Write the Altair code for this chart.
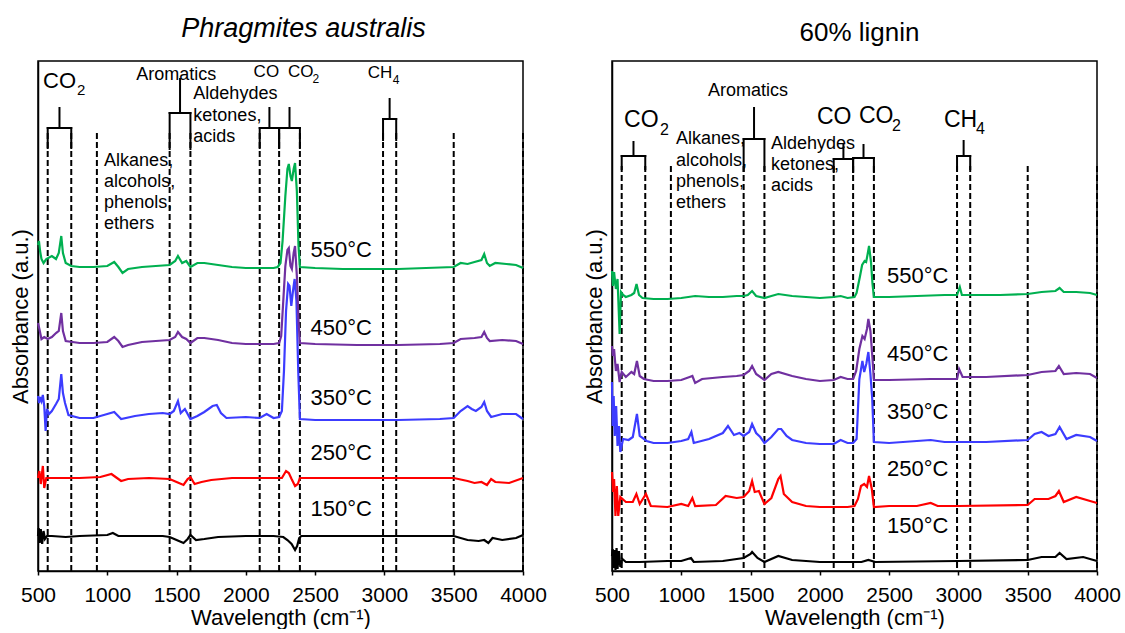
import altair as alt
import pandas as pd

FONT = "Liberation Sans"

WAVE_TICKS = [500, 1000, 1500, 2000, 2500, 3000, 3500, 4000]
BAND_LINES = [570, 740, 925, 1450, 1600, 2100, 2240, 2390, 2990, 3085, 3500, 4000]
TEMPS = ["150°C", "250°C", "350°C", "450°C", "550°C"]

# ---------------- Phragmites australis spectra (wavenumber, absorbance a.u.) -------------
PH_550 = [(500, 326), (507, 330), (515, 320), (525, 312), (540, 308), (560, 312), (600, 315), (630, 312),
          (650, 318), (668, 335), (680, 318), (700, 308), (740, 305), (800, 304), (900, 304), (1000, 305),
          (1050, 309), (1080, 304), (1110, 298), (1150, 302), (1250, 304), (1350, 305), (1450, 306),
          (1490, 310), (1510, 315), (1540, 308), (1570, 310), (1600, 304), (1650, 308), (1700, 308),
          (1800, 306), (1900, 304), (2000, 303), (2100, 303), (2200, 303), (2230, 304), (2250, 308),
          (2265, 330), (2285, 375), (2300, 402), (2310, 407), (2322, 395), (2332, 390), (2345, 402),
          (2355, 408), (2368, 380), (2380, 325), (2390, 304), (2500, 303), (2700, 302), (2900, 302),
          (3100, 302), (3300, 303), (3500, 304), (3550, 308), (3600, 307), (3650, 309), (3700, 311),
          (3720, 317), (3740, 308), (3760, 305), (3800, 308), (3880, 307), (3950, 306), (4000, 303)]
PH_450 = [(500, 248), (510, 242), (525, 232), (545, 234), (570, 232), (600, 234), (630, 238), (650, 240),
          (668, 258), (680, 240), (700, 230), (800, 228), (900, 228), (1000, 229), (1050, 234), (1080, 230),
          (1110, 224), (1150, 226), (1250, 229), (1350, 230), (1450, 231), (1490, 234), (1510, 239),
          (1540, 234), (1570, 232), (1600, 228), (1650, 233), (1700, 233), (1800, 231), (1900, 228),
          (2000, 227), (2200, 227), (2240, 228), (2255, 235), (2270, 270), (2285, 305), (2300, 321),
          (2310, 323), (2322, 305), (2332, 302), (2345, 318), (2355, 325), (2368, 295), (2380, 250),
          (2390, 228), (2500, 227), (2800, 226), (3100, 226), (3400, 227), (3500, 228), (3550, 232),
          (3650, 233), (3700, 234), (3720, 239), (3740, 233), (3760, 230), (3850, 231), (3950, 230),
          (4000, 227)]
PH_350 = [(500, 175), (508, 168), (515, 174), (525, 170), (535, 176), (545, 165), (555, 140), (565, 162),
          (580, 157), (600, 160), (630, 167), (650, 172), (668, 197), (680, 178), (695, 168), (720, 156),
          (800, 153), (900, 153), (1000, 157), (1050, 159), (1100, 152), (1200, 155), (1300, 157),
          (1400, 158), (1450, 157), (1480, 160), (1510, 170), (1530, 158), (1560, 162), (1600, 152),
          (1650, 155), (1700, 159), (1760, 165), (1790, 166), (1820, 158), (1860, 153), (2000, 154),
          (2100, 153), (2150, 157), (2200, 153), (2240, 154), (2260, 160), (2275, 200), (2290, 260),
          (2305, 287), (2315, 285), (2328, 265), (2340, 280), (2352, 292), (2365, 270), (2378, 200),
          (2390, 152), (2500, 151), (2800, 151), (3100, 151), (3400, 152), (3500, 153), (3550, 160),
          (3600, 165), (3630, 162), (3660, 160), (3700, 164), (3720, 169), (3740, 160), (3770, 154),
          (3850, 157), (3950, 157), (4000, 152)]
PH_250 = [(500, 93), (510, 100), (520, 87), (535, 105), (545, 83), (560, 93), (600, 93), (800, 93),
          (950, 94), (1030, 97), (1060, 94), (1100, 90), (1150, 92), (1300, 93), (1450, 92), (1500, 89),
          (1550, 86), (1580, 92), (1600, 94), (1630, 87), (1680, 89), (1750, 91), (1900, 93), (2200, 93),
          (2260, 93), (2290, 100), (2310, 98), (2330, 92), (2355, 85), (2375, 87), (2390, 93), (2600, 93),
          (3000, 93), (3500, 93), (3600, 90), (3650, 88), (3700, 89), (3740, 86), (3770, 92), (3800, 89),
          (3900, 88), (4000, 93)]
PH_150 = [(500, 35), (505, 43), (512, 28), (520, 42), (530, 27), (540, 40), (550, 32), (565, 35),
          (600, 35), (700, 34), (800, 35), (1000, 36), (1040, 38), (1080, 35), (1200, 35), (1400, 35),
          (1450, 34), (1500, 31), (1550, 28), (1580, 32), (1600, 36), (1640, 31), (1700, 32), (1800, 34),
          (2000, 35), (2200, 35), (2270, 34), (2300, 31), (2330, 27), (2355, 21), (2370, 25), (2385, 33),
          (2400, 35), (2800, 35), (3200, 35), (3500, 35), (3600, 31), (3680, 30), (3720, 31), (3750, 28),
          (3780, 33), (3850, 31), (3950, 33), (4000, 36)]

# ---------------- 60% lignin spectra -------------
LG_550 = [(500, 300), (507, 285), (515, 299), (528, 282), (540, 292), (555, 237), (565, 279), (580, 276),
          (600, 274), (640, 276), (660, 278), (677, 287), (695, 276), (720, 273), (800, 272), (900, 272),
          (1000, 273), (1100, 275), (1200, 274), (1300, 274), (1400, 275), (1450, 275), (1480, 276),
          (1511, 280), (1540, 275), (1600, 273), (1650, 275), (1700, 277), (1800, 275), (1900, 274),
          (2000, 273), (2100, 274), (2150, 275), (2200, 273), (2250, 274), (2265, 278), (2290, 295),
          (2305, 306), (2323, 310), (2334, 309), (2345, 317), (2355, 325), (2369, 309), (2380, 287),
          (2390, 274), (2500, 274), (2700, 275), (2900, 276), (2990, 276), (3010, 284), (3025, 276),
          (3100, 276), (3300, 276), (3500, 277), (3600, 279), (3700, 280), (3730, 283), (3760, 279),
          (3850, 279), (3950, 278), (4000, 276)]
LG_450 = [(500, 225), (507, 215), (515, 222), (528, 200), (540, 207), (555, 189), (570, 199), (600, 194),
          (640, 199), (660, 197), (680, 210), (700, 195), (730, 192), (800, 190), (900, 190), (1000, 191),
          (1060, 194), (1080, 195), (1100, 188), (1150, 192), (1300, 194), (1400, 195), (1450, 196),
          (1490, 200), (1511, 205), (1540, 197), (1600, 191), (1650, 197), (1700, 199), (1800, 195),
          (1900, 192), (2000, 190), (2100, 191), (2150, 194), (2200, 192), (2240, 192), (2262, 200),
          (2285, 222), (2307, 235), (2323, 232), (2340, 242), (2350, 252), (2365, 240), (2380, 212),
          (2390, 191), (2500, 191), (2800, 192), (2990, 192), (3005, 202), (3030, 194), (3200, 194),
          (3500, 196), (3600, 199), (3700, 200), (3725, 205), (3760, 197), (3850, 198), (3950, 197),
          (4000, 193)]
LG_350 = [(500, 189), (505, 145), (512, 175), (520, 135), (530, 165), (540, 125), (550, 145), (560, 119),
          (580, 132), (620, 131), (650, 134), (680, 157), (700, 135), (750, 130), (800, 128), (900, 128),
          (1000, 130), (1050, 132), (1073, 139), (1090, 128), (1200, 132), (1300, 138), (1337, 145),
          (1380, 136), (1420, 138), (1450, 135), (1490, 139), (1511, 147), (1540, 138), (1570, 134),
          (1600, 128), (1650, 134), (1700, 142), (1721, 142), (1760, 135), (1800, 131), (1900, 128),
          (2000, 127), (2100, 127), (2150, 131), (2200, 128), (2240, 128), (2265, 132), (2285, 192),
          (2307, 210), (2320, 199), (2335, 207), (2350, 219), (2365, 197), (2378, 172), (2390, 129),
          (2500, 128), (2800, 131), (2900, 129), (3200, 129), (3500, 131), (3550, 137), (3600, 139),
          (3650, 135), (3700, 137), (3730, 144), (3780, 132), (3850, 136), (3950, 134), (4000, 130)]
LG_250 = [(500, 99), (508, 79), (515, 92), (525, 55), (535, 85), (545, 55), (560, 74), (600, 69), (650, 69),
          (676, 77), (700, 67), (745, 77), (780, 65), (900, 64), (1000, 67), (1050, 65), (1080, 73),
          (1100, 65), (1250, 66), (1320, 75), (1400, 73), (1450, 74), (1490, 80), (1511, 90), (1530, 79),
          (1560, 80), (1600, 67), (1650, 73), (1700, 92), (1716, 95), (1740, 77), (1800, 69), (1900, 65),
          (2000, 64), (2200, 64), (2250, 65), (2275, 72), (2297, 85), (2320, 87), (2340, 84), (2355, 95),
          (2375, 82), (2390, 64), (2500, 65), (2700, 65), (2800, 68), (2850, 65), (3000, 65), (3500, 66),
          (3550, 72), (3650, 72), (3700, 75), (3725, 80), (3760, 69), (3850, 74), (3950, 70), (4000, 68)]
LG_150 = [(500, 15), (505, 22), (510, 3), (518, 21), (525, 1), (533, 23), (540, 2), (550, 20), (560, 4),
          (575, 12), (600, 9), (700, 9), (900, 10), (1000, 10), (1070, 13), (1090, 9), (1300, 10),
          (1450, 13), (1500, 17), (1511, 19), (1550, 13), (1600, 9), (1700, 15), (1800, 11), (2000, 9),
          (2300, 9), (2350, 11), (2400, 9), (3000, 10), (3500, 11), (3600, 14), (3700, 14), (3730, 18),
          (3780, 12), (3900, 14), (4000, 10)]

# ---------------- annotations -------------
# bracket: (left band, right band, top of stem, level of brace, bottom of legs)
PH_BRACKETS = [(570, 740, 463, 443, 423), (1450, 1600, 492, 458, 422), (2100, 2240, 463, 443, 423),
               (2240, 2390, 463, 443, 423), (2990, 3085, 472, 452, 431)]
LG_BRACKETS = [(570, 740, 429, 415, 402), (1450, 1600, 463, 432, 400), (2100, 2240, 426, 412, 399),
               (2240, 2390, 426, 413, 399), (2990, 3085, 430, 415, 402)]
PH_BAND_TOP = 438
LG_BAND_TOP = 405

# text: (wavenumber of left edge, absorbance, text, font size)
PH_TEXT = [(536, 490, "CO", 22), (782, 481, "2", 15),
           (1209, 496, "Aromatics", 18),
           (1621, 477, "Aldehydes", 18), (1621, 455, "ketones,", 18), (1621, 434, "acids", 18),
           (2056, 499, "CO", 17), (2304, 499, "CO", 17), (2481, 492, "2", 12),
           (2879, 498, "CH", 17), (3060, 491, "4", 12),
           (977, 410, "Alkanes,", 18), (977, 389, "alcohols,", 18), (977, 368, "phenols,", 18),
           (977, 347, "ethers", 18)]
LG_TEXT = [(587, 451, "CO", 23), (846, 441, "2", 16),
           (1193, 480, "Aromatics", 18),
           (1979, 454, "CO", 23), (2282, 455, "CO", 23), (2520, 445, "2", 16),
           (2895, 451, "CH", 23), (3126, 442, "4", 16),
           (962, 432, "Alkanes,", 18), (962, 410, "alcohols,", 18), (962, 389, "phenols,", 18),
           (962, 368, "ethers", 18),
           (1647, 427, "Aldehydes", 18), (1647, 406, "ketones,", 18), (1647, 385, "acids", 18)]

PH_TEMP_POS = [(2467, 62), (2467, 118), (2467, 173), (2467, 243), (2467, 321)]
LG_TEMP_POS = [(2484, 45), (2484, 102), (2484, 159), (2484, 217), (2484, 295)]

PH_COLORS = ["#000000", "#FF0000", "#3C3CFF", "#7030A0", "#00B050"]
LG_COLORS = ["#000000", "#FF0000", "#0000FF", "#7030A0", "#00B050"]

W, H = 485, 510

XSCALE = alt.Scale(domain=[500, 4000], nice=False, zero=False)
YSCALE = alt.Scale(domain=[0, 510], nice=False, zero=False)
XAXIS = alt.Axis(values=WAVE_TICKS, format="d", title="Wavelength (cm⁻¹)", grid=False,
                 labelOverlap=False, labelFlush=False)
YAXIS = alt.Axis(title="Absorbance (a.u.)", labels=False, ticks=False, grid=False)


def panel(title_params, series, colors, brackets, band_top, texts, temp_pos):
    rows = []
    for temp, pts in zip(TEMPS, series):
        for w, a in pts:
            rows.append({"w": w, "a": a, "temp": temp})
    spec = pd.DataFrame(rows)

    bands = pd.DataFrame({"w": BAND_LINES, "a": [band_top] * len(BAND_LINES), "a2": [0] * len(BAND_LINES)})

    segs = []
    for xl, xr, top, mid, bot in brackets:
        xm = (xl + xr) / 2
        segs.append({"w": xl, "w2": xl, "a": bot, "a2": mid})
        segs.append({"w": xr, "w2": xr, "a": bot, "a2": mid})
        segs.append({"w": xl, "w2": xr, "a": mid, "a2": mid})
        segs.append({"w": xm, "w2": xm, "a": mid, "a2": top})
    segdf = pd.DataFrame(segs)

    txt = pd.DataFrame([{"w": w, "a": a, "t": t, "s": s} for w, a, t, s in texts])
    temps = pd.DataFrame([{"w": p[0], "a": p[1], "t": t} for p, t in zip(temp_pos, TEMPS)])

    x = alt.X("w:Q", scale=XSCALE, axis=XAXIS)
    y = alt.Y("a:Q", scale=YSCALE, axis=YAXIS)

    band_layer = alt.Chart(bands).mark_rule(color="black", strokeWidth=2, strokeDash=[6, 3]).encode(
        x=x, y=y, y2="a2:Q")
    brace_layer = alt.Chart(segdf).mark_rule(color="black", strokeWidth=2, strokeCap="square").encode(
        x=x, x2="w2:Q", y=y, y2="a2:Q")
    line_layer = alt.Chart(spec).mark_line(strokeWidth=2.2).encode(
        x=x, y=y,
        color=alt.Color("temp:N", scale=alt.Scale(domain=TEMPS, range=colors), legend=None),
        detail="temp:N")
    text_layer = alt.Chart(txt).mark_text(align="left", baseline="middle", font=FONT, color="black").encode(
        x=x, y=y, text="t:N", size=alt.Size("s:Q", scale=None, legend=None))
    temp_layer = alt.Chart(temps).mark_text(align="left", baseline="middle", font=FONT, fontSize=22,
                                            color="black").encode(x=x, y=y, text="t:N")

    return alt.layer(band_layer, line_layer, brace_layer, text_layer, temp_layer).properties(
        width=W, height=H, title=title_params)


left = panel(alt.TitleParams("Phragmites australis", fontStyle="italic", fontSize=27, font=FONT,
                             fontWeight="normal", color="black", anchor="middle", offset=18, dx=23),
             [PH_150, PH_250, PH_350, PH_450, PH_550], PH_COLORS, PH_BRACKETS, PH_BAND_TOP, PH_TEXT,
             PH_TEMP_POS)
right = panel(alt.TitleParams("60% lignin", fontSize=26, font=FONT, fontWeight="normal", color="black",
                              anchor="middle", offset=18, dx=5, dy=3),
              [LG_150, LG_250, LG_350, LG_450, LG_550], LG_COLORS, LG_BRACKETS, LG_BAND_TOP, LG_TEXT,
              LG_TEMP_POS)

chart = alt.hconcat(left, right, spacing=34).properties(
    padding={"left": 8, "right": 3, "top": 14, "bottom": 0},
    background="white",
).configure_view(stroke="black", strokeWidth=1.5).configure_axis(
    domainColor="black", domainWidth=1.5, tickColor="black", tickWidth=1.5, tickSize=4,
    labelFont=FONT, labelFontSize=21, labelColor="black", labelPadding=9,
    titleFont=FONT, titleFontSize=22, titleFontWeight="normal", titleColor="black", titlePadding=2,
).configure_axisY(titlePadding=6)

chart.save("out.html", embed_options={"renderer": "svg", "actions": False})
